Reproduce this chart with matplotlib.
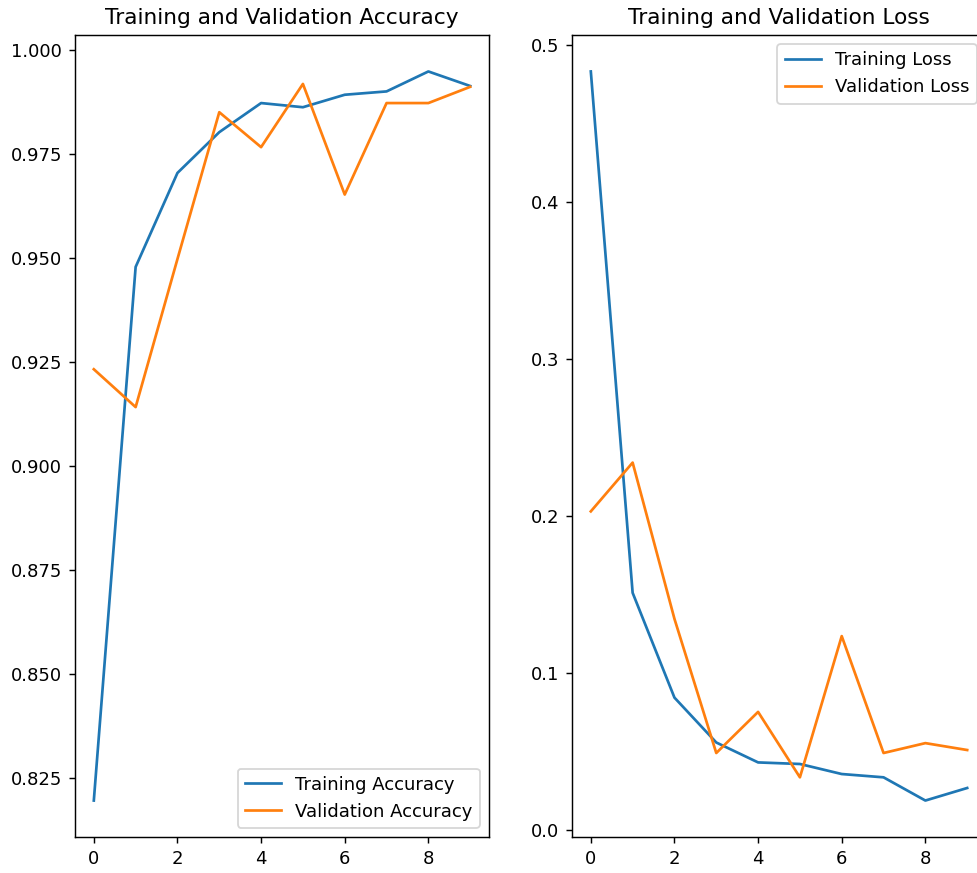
import matplotlib
matplotlib.use("Agg")
import matplotlib.pyplot as plt

epochs_range = range(10)

acc = [0.8195, 0.9478, 0.9704, 0.9802, 0.9872, 0.9862, 0.9892, 0.9900, 0.9948, 0.9913]
val_acc = [0.9232, 0.9141, 0.9497, 0.9850, 0.9766, 0.9918, 0.9652, 0.9872, 0.9872, 0.9911]

loss = [0.4834, 0.1511, 0.0843, 0.0557, 0.0430, 0.0420, 0.0356, 0.0335, 0.0187, 0.0267]
val_loss = [0.2030, 0.2341, 0.1345, 0.0490, 0.0752, 0.0335, 0.1235, 0.0490, 0.0553, 0.0509]

W, H = 977, 873
DPI = 130
fig = plt.figure(figsize=(W / DPI, H / DPI), dpi=DPI)

# axes placed in pixel terms of the (cropped) reference
ax1 = fig.add_axes([75 / W, (H - 837) / H, 414 / W, 802 / H])
ax1.plot(epochs_range, acc, label='Training Accuracy')
ax1.plot(epochs_range, val_acc, label='Validation Accuracy')
ax1.legend(loc='lower right')
ax1.set_title('Training and Validation Accuracy')

ax2 = fig.add_axes([572 / W, (H - 837) / H, 414 / W, 802 / H])
ax2.plot(epochs_range, loss, label='Training Loss')
ax2.plot(epochs_range, val_loss, label='Validation Loss')
ax2.legend(loc='upper right')
ax2.set_title('Training and Validation Loss')

fig.savefig("out.png", dpi=DPI)
